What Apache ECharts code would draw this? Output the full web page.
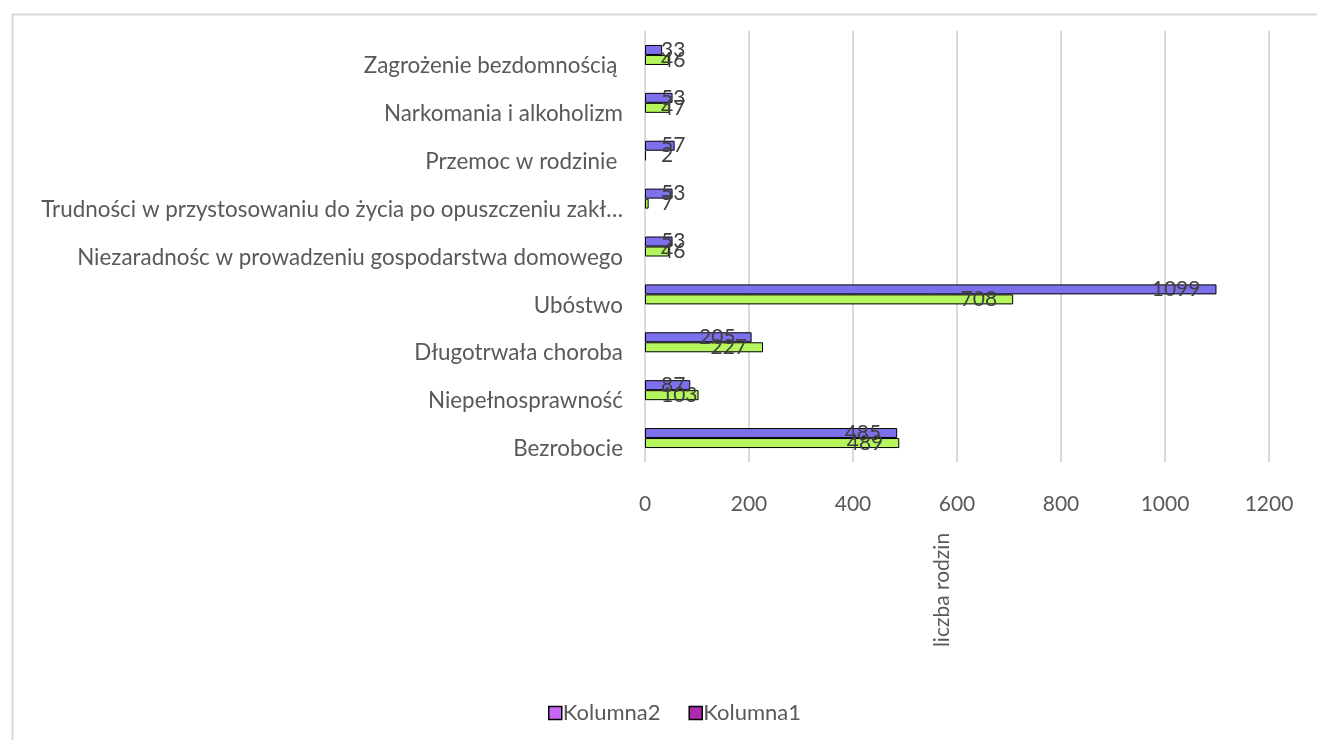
<!DOCTYPE html>
<html>
<head>
<meta charset="utf-8">
<script src="https://cdn.jsdelivr.net/npm/echarts@6/dist/echarts.min.js"></script>
<style>
  html, body { margin: 0; padding: 0; background: #fff; }
  #chart { width: 1317px; height: 740px; }
</style>
</head>
<body>
<div id="chart"></div>
<script>
// kategorie od dołu do góry
var categories = [
  'Bezrobocie',
  'Niepełnosprawność',
  'Długotrwała choroba',
  'Ubóstwo',
  'Niezaradnośc w prowadzeniu gospodarstwa domowego',
  'Trudności w przystosowaniu do życia po opuszczeniu zakładu karnego',
  'Przemoc w rodzinie ',
  'Narkomania i alkoholizm',
  'Zagrożenie bezdomnością '
];
var kolumna2 = [485, 87, 205, 1099, 53, 53, 57, 53, 33];   // niebieskie
var kolumna1 = [489, 103, 227, 708, 46, 7, 2, 47, 46];     // zielone
var xTicks = { min: 0, max: 1200, interval: 200 };
var axisTitle = 'liczba rodzin';

var FONT = 'Lato';

function withLabels(arr) {
  // krótkie słupki - etykieta od osi, dłuższe - przy końcu słupka
  return arr.map(function (v) {
    return { value: v, label: { position: v < 150 ? 'insideLeft' : 'insideRight' } };
  });
}

var barLabel = {
  show: true,
  distance: 16,
  color: '#404040',
  fontFamily: FONT,
  fontSize: 21
};

var myChart = echarts.init(document.getElementById('chart'));
myChart.setOption({
  animation: false,
  textStyle: { fontFamily: FONT },
  grid: {
    left: 645,
    right: 48,
    top: 31,
    bottom: 278,
    containLabel: false,
    outerBoundsMode: 'none'
  },
  legend: {
    left: 543,
    top: 697,
    icon: 'rect',
    itemWidth: 13,
    itemHeight: 13,
    itemGap: 28,
    textStyle: { color: '#595959', fontSize: 22, fontFamily: FONT, padding: [0, 0, 0, -4] },
    data: [
      { name: 'Kolumna2', itemStyle: { color: '#C865F5', borderColor: '#000', borderWidth: 1.5 } },
      { name: 'Kolumna1', itemStyle: { color: '#B02AB0', borderColor: '#000', borderWidth: 1.5 } }
    ]
  },
  xAxis: {
    type: 'value',
    min: xTicks.min,
    max: xTicks.max,
    interval: xTicks.interval,
    axisLine: { show: false },
    axisTick: { show: false },
    axisLabel: {
      color: '#595959',
      fontSize: 21,
      margin: 32,
      formatter: function (v) { return String(v); }
    },
    splitLine: { lineStyle: { color: '#d9d9d9', width: 2 } }
  },
  yAxis: {
    type: 'category',
    data: categories,
    axisLine: { show: false },
    axisTick: { show: false },
    axisLabel: {
      color: '#595959',
      fontSize: 22.4,
      margin: 22,
      width: 615,
      overflow: 'truncate',
      ellipsis: '…',
      verticalAlign: 'top',
      lineHeight: 22
    }
  },
  series: [
    {
      name: 'Kolumna2',
      type: 'bar',
      barWidth: 10,
      barGap: '0%',
      itemStyle: { color: '#7C70EC', borderColor: '#000', borderWidth: 1 },
      label: barLabel,
      data: withLabels(kolumna2)
    },
    {
      name: 'Kolumna1',
      type: 'bar',
      barWidth: 10,
      barGap: '0%',
      itemStyle: { color: '#B5F55E', borderColor: '#000', borderWidth: 1 },
      label: barLabel,
      data: withLabels(kolumna1)
    }
  ],
  graphic: [
    {
      type: 'rect',
      left: 10,
      top: 12,
      shape: { width: 1400, height: 800 },
      style: { fill: 'none', stroke: '#d9d9d9', lineWidth: 2 },
      silent: true
    },
    {
      type: 'text',
      x: 942,
      y: 590,
      rotation: Math.PI / 2,
      style: {
        text: axisTitle,
        align: 'center',
        verticalAlign: 'middle',
        fill: '#595959',
        font: '21px Lato'
      }
    }
  ]
});
</script>
</body>
</html>
